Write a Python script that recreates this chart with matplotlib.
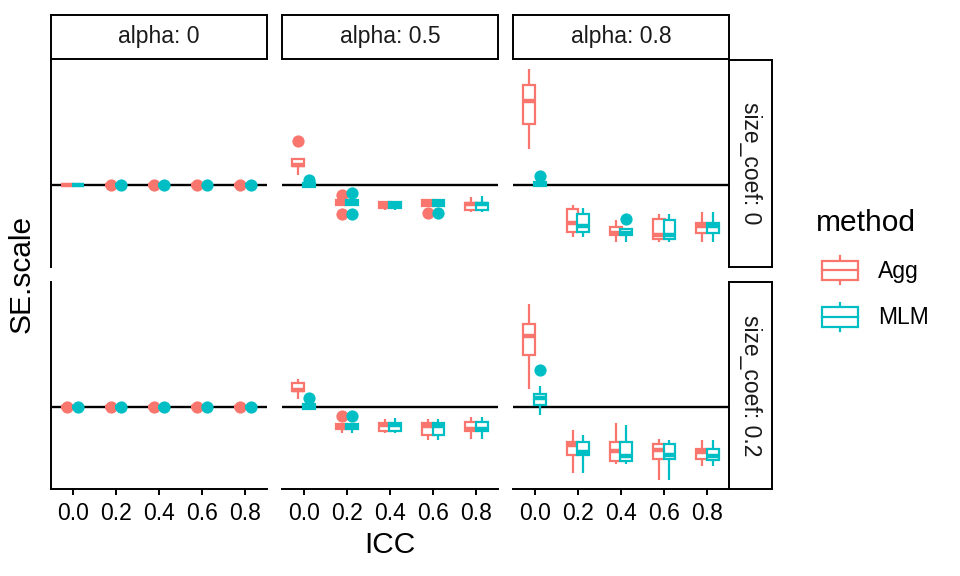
import matplotlib
matplotlib.use('Agg')
import matplotlib.pyplot as plt
from matplotlib.legend_handler import HandlerBase
from matplotlib.lines import Line2D
from matplotlib.patches import Rectangle

plt.rcParams['font.family'] = ['Liberation Sans', 'DejaVu Sans']

# ---------------------------------------------------------------
# data; box rows = [whislo, q1, med, q3, whishi]
# ---------------------------------------------------------------
icc = [0.0, 0.2, 0.4, 0.6, 0.8]
alphas = ['0', '0.5', '0.8']
size_coefs = ['0', '0.2']
methods = ['Agg', 'MLM']
colors = ['#F8766D', '#00BFC4']

# size_coef 0
agg_s0_a0 = [[1, 1, 1, 1, 1]] * 5
mlm_s0_a0 = [[1, 1, 1, 1, 1]] * 5
agg_s0_a0_out = [[], [1.0], [1.0], [1.0], [1.0]]
mlm_s0_a0_out = [[], [1.0], [1.0], [1.0], [1.0]]

agg_s0_a05 = [[1.05, 1.095, 1.10, 1.1285, 1.135],
              [0.9015, 0.9015, 0.912, 0.9235, 0.9235],
              [0.875, 0.885, 0.90, 0.915, 0.915],
              [0.8965, 0.8965, 0.91, 0.9235, 0.9235],
              [0.865, 0.8765, 0.9035, 0.9115, 0.94]]
mlm_s0_a05 = [[0.99, 0.99, 1.0, 1.01, 1.01],
              [0.9015, 0.9015, 0.912, 0.9235, 0.9235],
              [0.875, 0.885, 0.90, 0.915, 0.915],
              [0.8965, 0.8965, 0.91, 0.9235, 0.9235],
              [0.865, 0.8765, 0.9035, 0.9115, 0.945]]
agg_s0_a05_out = [[1.22], [0.95, 0.855], [], [0.86], []]
mlm_s0_a05_out = [[1.025], [0.96, 0.855], [], [0.86], []]

agg_s0_a08 = [[1.18, 1.305, 1.42, 1.50, 1.58],
              [0.74, 0.765, 0.81, 0.88, 0.90],
              [0.715, 0.75, 0.76, 0.79, 0.825],
              [0.715, 0.73, 0.75, 0.83, 0.855],
              [0.715, 0.76, 0.795, 0.81, 0.865]]
mlm_s0_a08 = [[0.995, 0.995, 1.005, 1.015, 1.015],
              [0.74, 0.765, 0.795, 0.855, 0.885],
              [0.715, 0.75, 0.76, 0.78, 0.78],
              [0.715, 0.73, 0.75, 0.825, 0.855],
              [0.715, 0.76, 0.795, 0.81, 0.865]]
agg_s0_a08_out = [[], [], [], [], []]
mlm_s0_a08_out = [[1.045], [], [0.83], [], []]

# size_coef 0.2
agg_s2_a0 = [[1, 1, 1, 1, 1]] * 5
mlm_s2_a0 = [[1, 1, 1, 1, 1]] * 5
agg_s2_a0_out = [[1.0], [1.0], [1.0], [1.0], [1.0]]
mlm_s2_a0_out = [[1.0], [1.0], [1.0], [1.0], [1.0]]

agg_s2_a05 = [[1.04, 1.079, 1.0875, 1.119, 1.14],
              [0.87, 0.889, 0.90, 0.916, 0.916],
              [0.87, 0.881, 0.909, 0.921, 0.94],
              [0.835, 0.8625, 0.905, 0.921, 0.94],
              [0.84, 0.879, 0.89, 0.9275, 0.95]]
mlm_s2_a05 = [[0.99, 0.9925, 1.0075, 1.015, 1.015],
              [0.87, 0.889, 0.905, 0.916, 0.916],
              [0.87, 0.881, 0.909, 0.921, 0.945],
              [0.835, 0.8625, 0.9075, 0.921, 0.94],
              [0.84, 0.879, 0.89, 0.9275, 0.95]]
agg_s2_a05_out = [[], [0.955], [], [], []]
mlm_s2_a05_out = [[1.045], [0.955], [], [], []]

agg_s2_a08 = [[1.09, 1.2625, 1.355, 1.415, 1.5175],
              [0.67, 0.76, 0.81, 0.8275, 0.8875],
              [0.7175, 0.73, 0.7825, 0.8275, 0.92],
              [0.6375, 0.7425, 0.785, 0.815, 0.8425],
              [0.705, 0.7425, 0.7775, 0.79, 0.8375]]
mlm_s2_a08 = [[0.9625, 1.0125, 1.045, 1.065, 1.105],
              [0.67, 0.76, 0.775, 0.825, 0.8625],
              [0.7175, 0.73, 0.7575, 0.8275, 0.9125],
              [0.6375, 0.7425, 0.76, 0.815, 0.8375],
              [0.705, 0.735, 0.755, 0.79, 0.8375]]
agg_s2_a08_out = [[], [], [], [], []]
mlm_s2_a08_out = [[1.185], [], [], [], []]

panels = [
    [(agg_s0_a0, agg_s0_a0_out, mlm_s0_a0, mlm_s0_a0_out),
     (agg_s0_a05, agg_s0_a05_out, mlm_s0_a05, mlm_s0_a05_out),
     (agg_s0_a08, agg_s0_a08_out, mlm_s0_a08, mlm_s0_a08_out)],
    [(agg_s2_a0, agg_s2_a0_out, mlm_s2_a0, mlm_s2_a0_out),
     (agg_s2_a05, agg_s2_a05_out, mlm_s2_a05, mlm_s2_a05_out),
     (agg_s2_a08, agg_s2_a08_out, mlm_s2_a08, mlm_s2_a08_out)],
]

# ---------------------------------------------------------------
# layout (pixels)
# ---------------------------------------------------------------
W, H = 960, 576
col_x = [(51, 267), (282, 498), (513, 729)]
row_y = [(60, 267), (282, 489)]
LW = 1.4
BOX_LW = 1.6
SMALL = 16.5
BIG = 21.5

fig = plt.figure(figsize=(W / 100, H / 100), dpi=100)


def px_axes(x0, y0, x1, y1):
    return fig.add_axes([x0 / W, 1 - y1 / H, (x1 - x0) / W, (y1 - y0) / H])


def to_stats(rows, outs):
    return [dict(whislo=r[0], q1=r[1], med=r[2], q3=r[3], whishi=r[4], fliers=o)
            for r, o in zip(rows, outs)]


offset = 0.0245
width = 0.054

for i, (y0, y1) in enumerate(row_y):
    for j, (x0, x1) in enumerate(col_x):
        ax = px_axes(x0, y0, x1, y1)
        ax.axhline(1, color='black', lw=1.7, zorder=1)
        agg, agg_out, mlm, mlm_out = panels[i][j]
        for k, (rows, outs) in enumerate([(agg, agg_out), (mlm, mlm_out)]):
            c = colors[k]
            pos = [v + (offset if k else -offset) for v in icc]
            ax.bxp(to_stats(rows, outs), positions=pos, widths=width,
                   patch_artist=True, showcaps=False, manage_ticks=False,
                   boxprops=dict(facecolor='white', edgecolor=c, lw=BOX_LW),
                   medianprops=dict(color=c, lw=3.2, solid_capstyle='butt'),
                   whiskerprops=dict(color=c, lw=BOX_LW, solid_capstyle='butt'),
                   flierprops=dict(marker='o', markerfacecolor=c, markeredgecolor=c,
                                   markeredgewidth=0, markersize=8.8),
                   zorder=2 + k)
        ax.set_xlim(-0.1, 0.9)
        ax.set_ylim(0.59, 1.625)
        ax.set_yticks([])
        for s in ['top', 'right']:
            ax.spines[s].set_visible(False)
        ax.spines['left'].set_visible(j == 0)
        ax.spines['bottom'].set_visible(i == 1)
        ax.spines['left'].set_linewidth(LW)
        ax.spines['bottom'].set_linewidth(LW)
        ax.set_xticks(icc)
        if i == 1:
            ax.set_xticklabels([f'{v:.1f}' for v in icc])
            ax.tick_params(axis='x', length=4.3, width=LW, labelsize=SMALL, pad=5,
                           colors='black')
        else:
            ax.tick_params(axis='x', length=0, labelbottom=False)

# strips
for j, (x0, x1) in enumerate(col_x):
    sa = px_axes(x0, 15, x1, 59)
    sa.set_xticks([])
    sa.set_yticks([])
    for s in sa.spines.values():
        s.set_linewidth(LW)
    sa.text(0.5, 0.5, f'alpha: {alphas[j]}', ha='center', va='center',
            fontsize=SMALL, color='#1a1a1a', transform=sa.transAxes)

for i, (y0, y1) in enumerate(row_y):
    sa = px_axes(729, y0, 772, y1)
    sa.set_xticks([])
    sa.set_yticks([])
    for s in sa.spines.values():
        s.set_linewidth(LW)
    sa.text(0.5, 0.5, f'size_coef: {size_coefs[i]}', ha='center', va='center',
            rotation=-90, fontsize=SMALL, color='#1a1a1a', transform=sa.transAxes)

# axis titles
fig.text(22 / W, 1 - 274 / H, 'SE.scale', rotation=90, ha='center', va='center',
         fontsize=BIG)
fig.text(390 / W, 1 - 545 / H, 'ICC', ha='center', va='center', fontsize=BIG)


class BoxKey(HandlerBase):
    def create_artists(self, legend, orig_handle, xdescent, ydescent, width,
                       height, fontsize, trans):
        c = orig_handle.get_color()
        x0, y0 = -xdescent, -ydescent
        cx = x0 + width / 2
        bh = height * 0.68
        by = y0 + (height - bh) / 2
        rect = Rectangle((x0, by), width, bh, facecolor='white', edgecolor=c,
                         lw=BOX_LW, transform=trans)
        med = Line2D([x0, x0 + width], [y0 + height / 2] * 2, color=c,
                     lw=BOX_LW, transform=trans)
        wl = Line2D([cx, cx], [y0, by], color=c, lw=BOX_LW, transform=trans)
        wh = Line2D([cx, cx], [by + bh, y0 + height], color=c, lw=BOX_LW,
                    transform=trans)
        return [wl, wh, rect, med]


# legend: title drawn as text, keys as a title-less legend
fig.text(816 / W, 1 - 223 / H, 'method', ha='left', va='center', fontsize=BIG)
handles = [Line2D([], [], color=c) for c in colors]
fig.legend(handles=handles, labels=methods, handler_map={Line2D: BoxKey()},
           fontsize=SMALL, frameon=False,
           loc='upper left', bbox_to_anchor=(822 / W, 1 - 256 / H),
           handlelength=1.57, handleheight=1.53, handletextpad=0.87,
           labelspacing=0.8, borderpad=0, borderaxespad=0)

fig.savefig('out.png', dpi=100)
